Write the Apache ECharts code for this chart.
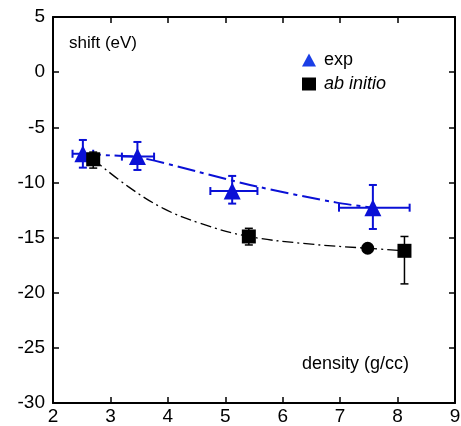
<!DOCTYPE html>
<html>
<head>
<meta charset="utf-8">
<script src="https://cdn.jsdelivr.net/npm/echarts@6/dist/echarts.min.js"></script>
<style>
html, body { margin: 0; padding: 0; background: #fff; }
#chart { width: 461px; height: 426px; }
</style>
</head>
<body>
<div id="chart"></div>
<script>
// values
var expPoints = [[2.52, -7.4], [3.47, -7.66], [5.12, -10.78], [7.57, -12.29]];
// [x, y, xLow, xHigh, yLow, yHigh]
var expErrors = [
    [2.52, -7.4, 2.34, 2.70, -8.66, -6.15],
    [3.47, -7.66, 3.20, 3.76, -8.87, -6.33],
    [5.12, -10.78, 4.74, 5.56, -11.92, -9.41],
    [7.57, -12.29, 6.98, 8.21, -14.22, -10.23]
];
var abPoints = [[2.70, -7.9], [5.41, -14.9], [8.12, -16.2]];
var abErrors = [
    [2.70, -7.9, 2.70, 2.70, -8.7, -7.25],
    [5.41, -14.9, 5.41, 5.41, -15.67, -14.16],
    [8.12, -16.2, 8.12, 8.12, -19.2, -14.9]
];
var circlePoint = [[7.48, -15.97]];
var expFit = [[2.52, -7.4], [3.0, -7.55], [3.47, -7.7], [4.5, -9.0], [5.55, -10.37], [6.94, -11.83], [7.57, -12.29]];
var abFit = [[2.70, -7.9], [3.31, -10.38], [3.92, -12.35], [4.56, -13.7], [5.41, -14.9], [6.5, -15.6], [7.48, -15.97], [8.12, -16.2]];
var xTicks = [2, 3, 4, 5, 6, 7, 8, 9];
var yTicks = [-30, -25, -20, -15, -10, -5, 0, 5];

var BLUE = '#0a10d6';
var FONT = 'Liberation Sans';

function errorBars(color, width) {
    return function (params, api) {
        var x = api.value(0), y = api.value(1);
        var xl = api.coord([api.value(2), y]), xh = api.coord([api.value(3), y]);
        var yl = api.coord([x, api.value(4)]), yh = api.coord([x, api.value(5)]);
        var c = 4;
        var st = { stroke: color, lineWidth: width };
        var kids = [
            { type: 'line', shape: { x1: yl[0], y1: yl[1], x2: yh[0], y2: yh[1] }, style: st },
            { type: 'line', shape: { x1: yl[0] - c, y1: yl[1], x2: yl[0] + c, y2: yl[1] }, style: st },
            { type: 'line', shape: { x1: yh[0] - c, y1: yh[1], x2: yh[0] + c, y2: yh[1] }, style: st }
        ];
        if (xh[0] - xl[0] > 1) {
            kids.push(
                { type: 'line', shape: { x1: xl[0], y1: xl[1], x2: xh[0], y2: xh[1] }, style: st },
                { type: 'line', shape: { x1: xl[0], y1: xl[1] - c, x2: xl[0], y2: xl[1] + c }, style: st },
                { type: 'line', shape: { x1: xh[0], y1: xh[1] - c, x2: xh[0], y2: xh[1] + c }, style: st }
            );
        }
        return { type: 'group', children: kids };
    };
}

var axisCommon = {
    type: 'value',
    interval: 5,
    splitLine: { show: false },
    axisLine: { show: true, onZero: false, lineStyle: { color: '#000', width: 2 } },
    axisTick: { show: true, inside: true, length: 6, lineStyle: { color: '#000', width: 1.5 } }
};

var chart = echarts.init(document.getElementById('chart'), null, { renderer: 'canvas' });
var option = {
    animation: false,
    backgroundColor: '#fff',
    grid: { left: 53, right: 6, top: 17, bottom: 23, containLabel: false, outerBoundsMode: 'none' },
    xAxis: [
        Object.assign({}, axisCommon, {
            min: xTicks[0], max: xTicks[xTicks.length - 1], interval: 1, position: 'bottom',
            axisLabel: { color: '#000', fontSize: 19, fontFamily: FONT, margin: 4 }
        }),
        Object.assign({}, axisCommon, {
            min: xTicks[0], max: xTicks[xTicks.length - 1], interval: 1, position: 'top',
            axisLabel: { show: false }
        })
    ],
    yAxis: [
        Object.assign({}, axisCommon, {
            min: yTicks[0], max: yTicks[yTicks.length - 1], position: 'left',
            axisLabel: { color: '#000', fontSize: 19, fontFamily: FONT, margin: 8 }
        }),
        Object.assign({}, axisCommon, {
            min: yTicks[0], max: yTicks[yTicks.length - 1], position: 'right',
            axisLabel: { show: false }
        })
    ],
    legend: {
        orient: 'vertical',
        left: 297, top: 46,
        itemWidth: 14, itemHeight: 13, itemGap: 6,
        data: [
            { name: 'exp', icon: 'triangle', itemStyle: { color: '#1a3ee6' } },
            { name: 'ab initio', icon: 'rect' }
        ],
        formatter: function (n) { return n === 'ab initio' ? '{i|ab initio}' : n; },
        textStyle: {
            color: '#000', fontSize: 18, fontFamily: FONT, padding: [0, 0, 0, 3],
            rich: { i: { fontStyle: 'italic', fontSize: 18, fontFamily: FONT, color: '#000' } }
        }
    },
    graphic: [
        { type: 'text', left: 69, top: 35, style: { text: 'shift (eV)', font: '17px "Liberation Sans"', fill: '#000' } },
        { type: 'text', left: 302, top: 355, style: { text: 'density (g/cc)', font: '18px "Liberation Sans"', fill: '#000' } }
    ],
    series: [
        {
            name: 'exp fit', type: 'line', data: expFit, smooth: 0.3, symbol: 'none',
            lineStyle: { color: BLUE, width: 2, type: [18, 5, 4, 5] }, z: 1
        },
        {
            name: 'ab fit', type: 'line', data: abFit, smooth: 0.4, symbol: 'none',
            lineStyle: { color: '#000', width: 1.3, type: [11, 4, 2, 4] }, z: 1
        },
        { name: 'exp err', type: 'custom', data: expErrors, renderItem: errorBars(BLUE, 2), z: 2 },
        { name: 'ab err', type: 'custom', data: abErrors, renderItem: errorBars('#000', 1.5), z: 2 },
        {
            name: 'exp', type: 'scatter', data: expPoints, symbol: 'triangle', symbolSize: 17,
            itemStyle: { color: BLUE, opacity: 1 }, z: 3
        },
        {
            name: 'ab initio', type: 'scatter', data: abPoints, symbol: 'rect', symbolSize: 14,
            itemStyle: { color: '#000', opacity: 1 }, z: 4
        },
        {
            name: 'circle', type: 'scatter', data: circlePoint, symbol: 'circle', symbolSize: 13,
            itemStyle: { color: '#000', opacity: 1 }, z: 4
        }
    ]
};
chart.setOption(option);
</script>
</body>
</html>
